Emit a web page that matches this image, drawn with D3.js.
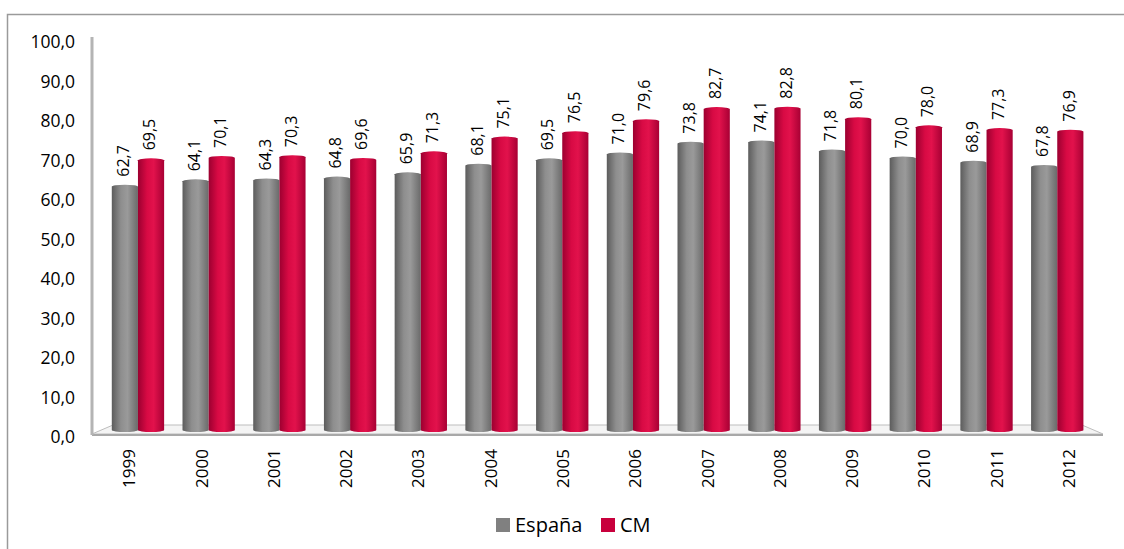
<!DOCTYPE html>
<html>
<head>
<meta charset="utf-8">
<script src="https://cdn.jsdelivr.net/npm/d3@7"></script>
<style>
  html, body { margin: 0; padding: 0; background: #fff; }
  svg { display: block; }
  text { font-family: "Open Sans", sans-serif; fill: #000; }
</style>
</head>
<body>
<svg id="chart" width="1124" height="549"></svg>
<script>
const years = ["1999","2000","2001","2002","2003","2004","2005","2006","2007","2008","2009","2010","2011","2012"];
const espana = [62.7, 64.1, 64.3, 64.8, 65.9, 68.1, 69.5, 71.0, 73.8, 74.1, 71.8, 70.0, 68.9, 67.8];
const cm = [69.5, 70.1, 70.3, 69.6, 71.3, 75.1, 76.5, 79.6, 82.7, 82.8, 80.1, 78.0, 77.3, 76.9];
const seriesNames = ["España", "CM"];
const yTicks = [0, 10, 20, 30, 40, 50, 60, 70, 80, 90, 100];

const svg = d3.select("#chart");
const fmt = v => d3.format(".1f")(v).replace(".", ",");

// gradients
const defs = svg.append("defs");
function cyl(id, stops) {
  const g = defs.append("linearGradient").attr("id", id).attr("x1", 0).attr("x2", 1).attr("y1", 0).attr("y2", 0);
  stops.forEach(s => g.append("stop").attr("offset", s[0]).attr("stop-color", s[1]));
}
cyl("gGray", [[0, "#5c5c5c"], [0.35, "#8e8e8e"], [0.6, "#9a9a9a"], [1, "#6a6a6a"]]);
cyl("gRed", [[0, "#9c0030"], [0.35, "#d80a44"], [0.6, "#e2124c"], [1, "#a80034"]]);
const fills = ["url(#gGray)", "url(#gRed)"];
const legendColors = ["#808080", "#c8003c"];

// outer border
svg.append("rect").attr("x", 7.5).attr("y", 14.5).attr("width", 1130).attr("height", 560)
  .attr("fill", "none").attr("stroke", "#9a9a9a").attr("stroke-width", 1.5);

// scales
const yBar = d3.scaleLinear().domain([0, 100]).range([430, 42]);
const yAxisS = d3.scaleLinear().domain([0, 100]).range([437, 42]);
const xBar = d3.scaleBand().domain(years).range([102.6, 1092.6]).paddingInner(0.26).paddingOuter(0.13);
const xFront = d3.scaleBand().domain(years).range([93, 1105]);
const xSeries = d3.scaleBand().domain(seriesNames).range([0, xBar.bandwidth()]);

// floor
const floor = svg.append("g");
floor.append("path")
  .attr("d", "M92,434 L113,425 L1082,425 L1103,434 Z")
  .attr("fill", "#f4f4f4").attr("stroke", "#bdbdbd").attr("stroke-width", 1);
floor.append("line").attr("x1", 92).attr("x2", 1103).attr("y1", 435).attr("y2", 435)
  .attr("stroke", "#a8a8a8").attr("stroke-width", 2);

// y axis line
svg.append("line").attr("x1", 92).attr("x2", 92).attr("y1", 37).attr("y2", 435)
  .attr("stroke", "#b4b4b4").attr("stroke-width", 3);

// y tick labels
svg.append("g").selectAll("text").data(yTicks).join("text")
  .attr("x", 75).attr("y", d => yAxisS(d)).attr("dy", "0.36em")
  .attr("text-anchor", "end").style("font-size", "17.5px")
  .text(d => fmt(d));

// bars
const data = years.map((y, i) => ({ year: y, vals: [espana[i], cm[i]] }));
const groups = svg.append("g").selectAll("g").data(data).join("g")
  .attr("transform", d => `translate(${xBar(d.year)},0)`);

groups.selectAll("path").data(d => d.vals.map((v, k) => ({ v, k }))).join("path")
  .attr("fill", d => fills[d.k])
  .attr("d", d => {
    const x0 = xSeries(seriesNames[d.k]);
    const w = xSeries.bandwidth();
    const top = yBar(d.v), bot = yBar(0);
    const ry = 2;
    return `M${x0},${top} A${w / 2},${ry} 0 0 1 ${x0 + w},${top} L${x0 + w},${bot} A${w / 2},${ry} 0 0 1 ${x0},${bot} Z`;
  });

groups.selectAll("text").data(d => d.vals.map((v, k) => ({ v, k }))).join("text")
  .attr("transform", d => {
    const cx = xSeries(seriesNames[d.k]) + xSeries.bandwidth() / 2 - 1.5;
    return `translate(${cx},${yBar(d.v) - 10}) rotate(-90)`;
  })
  .attr("dy", "0.36em").attr("text-anchor", "start")
  .style("font-size", "16px")
  .text(d => fmt(d.v));

// x labels
svg.append("g").selectAll("text").data(years).join("text")
  .attr("transform", d => `translate(${xFront(d) + xFront.bandwidth() / 2},449) rotate(-90)`)
  .attr("dy", "0.36em").attr("text-anchor", "end")
  .style("font-size", "17px")
  .text(d => d);

// legend
const legX = [496, 601];
const leg = svg.append("g").selectAll("g").data(seriesNames).join("g")
  .attr("transform", (d, i) => `translate(${legX[i]},518)`);
leg.append("rect").attr("width", 14).attr("height", 14).attr("fill", (d, i) => legendColors[i]);
leg.append("text").attr("x", 19).attr("y", 7).attr("dy", "0.36em")
  .style("font-size", "20px").text(d => d);
</script>
</body>
</html>
